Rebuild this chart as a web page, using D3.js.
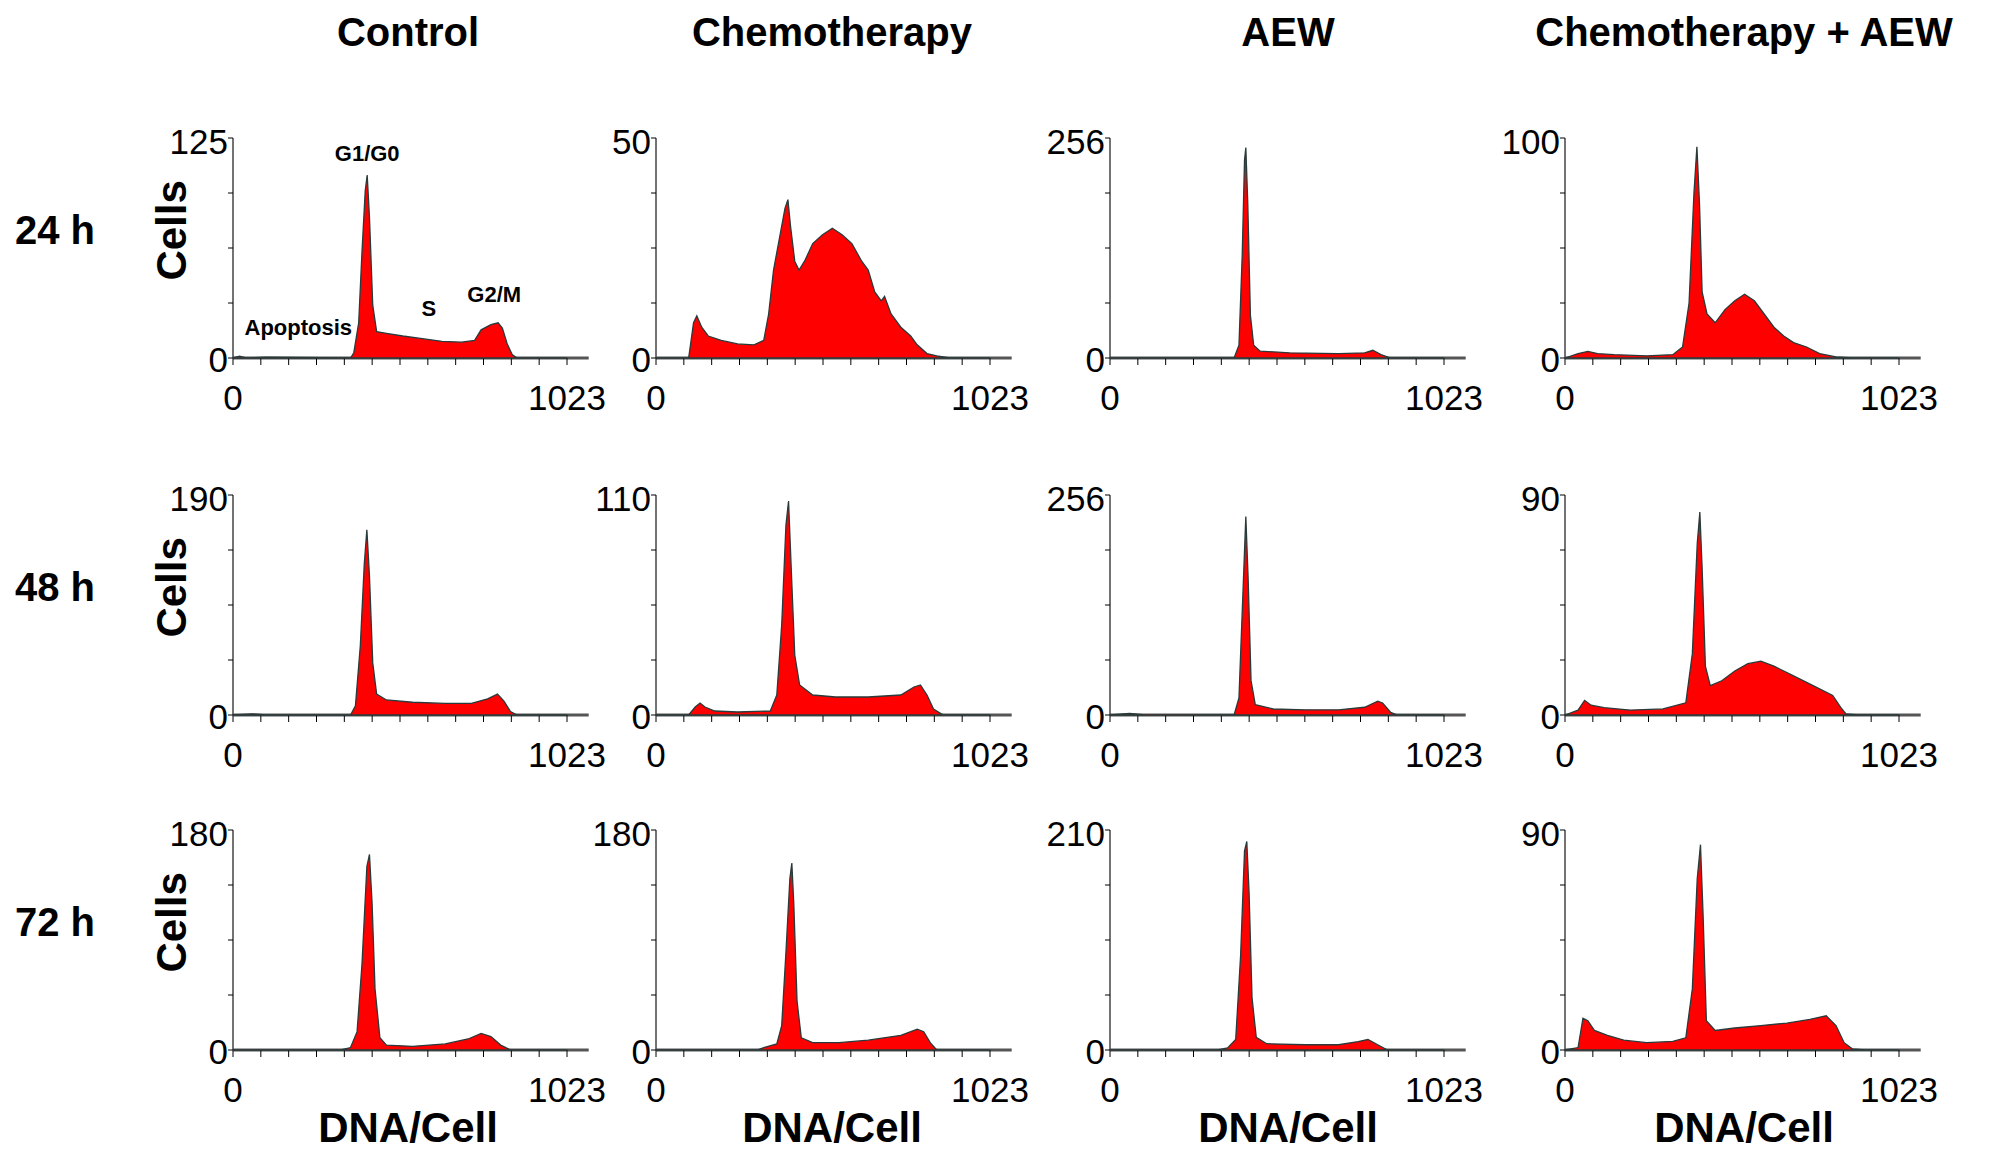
<!DOCTYPE html>
<html><head><meta charset="utf-8">
<script src="https://cdn.jsdelivr.net/npm/d3@7"></script>
<style>body{margin:0;background:#fff}text{font-family:"Liberation Sans Narrow","Liberation Sans",Arial,sans-serif}</style>
</head><body>
<script>
// Column and row labels
const conditions = ['Control', 'Chemotherapy', 'AEW', 'Chemotherapy + AEW'];
const times = ['24 h', '48 h', '72 h'];
// y-axis maxima per row, per column
const yMax = [[125, 50, 256, 100], [190, 110, 256, 90], [180, 180, 210, 90]];

// Histogram outlines: [channel, cells]
const ctl24 = [[0,0],[20,1],[40,0],[100,0.5],[360,0],[370,3],[385,20],[395,60],[405,95],[411,104],[418,80],[428,30],[440,15],[470,14],[520,12.5],[580,11],[640,9.5],[700,9],[740,10],[760,16],[790,19],[812,20],[825,17],[840,8],[855,2],[870,0],[1023,0]];
const chemo24 = [[0,0],[100,0],[115,8],[125,9.6],[140,7],[160,5],[200,4],[250,3.2],[300,3],[330,4],[345,10],[360,20],[380,28],[395,34],[404,36],[412,30],[425,22],[438,20],[455,22],[480,26],[510,28],[540,29.5],[570,28],[600,26],[630,22],[650,20],[670,15],[690,13],[700,14],[720,10],[750,7],[780,5],[800,3],[830,1],[860,0.5],[900,0],[1023,0]];
const aew24 = [[0,0],[380,0],[395,15],[405,120],[412,230],[416,245],[422,180],[430,50],[440,15],[460,8],[550,6],[700,5],[780,6],[805,9],[830,4],[860,0],[1023,0]];
const combo24 = [[0,0],[40,2],[70,3],[100,2],[150,1.5],[250,1],[330,1.5],[360,5],[380,25],[395,75],[404,96],[412,70],[420,30],[435,20],[460,16],[490,22],[520,26],[550,29],[580,26],[610,20],[640,14],[670,10],[700,7],[740,5],[780,2],[830,0.5],[880,0],[1023,0]];
const ctl48 = [[0,0],[60,1],[100,0],[360,0],[375,8],[390,60],[402,130],[410,160],[418,120],[428,45],[440,18],[470,13],[550,11],[650,10],[730,10],[780,14],[810,18],[830,12],[850,3],[870,0],[1023,0]];
const chemo48 = [[0,0],[100,0],[120,4],[135,6],[150,4],[180,2],[250,1.5],[350,2],[370,10],[385,45],[398,95],[406,107],[415,70],[425,30],[440,15],[480,10],[550,9],[650,9],[750,10],[790,14],[810,15],[830,10],[850,3],[880,0],[1023,0]];
const aew48 = [[0,0],[60,2],[100,0.5],[380,0],[395,20],[408,150],[416,231],[423,160],[432,40],[445,12],[500,7],[600,6],[700,6],[780,9],[820,16],[835,14],[860,3],[880,0],[1023,0]];
const combo48 = [[0,0],[40,2],[60,6],[80,4],[120,3],[200,2],[300,2.5],[370,5],[390,25],[405,70],[413,83],[420,60],[430,20],[445,12],[480,14],[520,18],[560,21],[600,22],[640,20],[700,16],[760,12],[820,8],[845,3],[860,0.5],[900,0],[1023,0]];
const ctl72 = [[0,0],[330,0],[360,2],[380,15],[395,70],[410,150],[418,160],[426,120],[435,50],[450,10],[470,4],[550,3],[650,5],[720,9],[760,13.5],[790,11],[820,4],[850,0],[1023,0]];
const chemo72 = [[0,0],[310,0],[330,2],[370,5],[385,20],[398,80],[410,140],[416,153],[422,120],[432,40],[445,10],[480,6],[560,6],[650,8],[750,12],[800,17],[820,15],[840,6],[860,0],[1023,0]];
const aew72 = [[0,0],[330,0],[360,2],[385,10],[400,90],[412,190],[419,199],[426,150],[435,50],[448,12],[480,6],[600,5],[700,5],[760,8],[790,10],[820,5],[850,0],[1023,0]];
const combo72 = [[0,0],[40,1],[55,13],[70,12],[90,8],[130,6],[180,4],[250,3],[330,3.5],[370,5],[390,25],[405,70],[415,84],[423,55],[433,12],[460,8],[520,9],[600,10],[680,11],[750,12.5],[800,14],[830,10],[855,3],[880,0.5],[920,0],[1023,0]];
const histograms = [[ctl24, chemo24, aew24, combo24], [ctl48, chemo48, aew48, combo48], [ctl72, chemo72, aew72, combo72]];

const colX = [233, 656, 1110, 1565];
const rowTop = [138, 495, 830];
const plotH = 220, plotW = 334;

const svg = d3.select('body').append('svg').attr('width', 2000).attr('height', 1154);

// column titles
const titleX = [408, 832, 1288, 1744];
conditions.forEach((c, i) => {
    svg.append('text').attr('x', titleX[i]).attr('y', 46).attr('text-anchor', 'middle')
        .attr('font-size', 40).attr('font-weight', 'bold').text(c);
});

times.forEach((t, r) => {
    const mid = rowTop[r] + plotH * 0.42;
    svg.append('text').attr('x', 55).attr('y', mid + 14).attr('text-anchor', 'middle')
        .attr('font-size', 40).attr('font-weight', 'bold').text(t);
    svg.append('text').attr('transform', `translate(186,${mid}) rotate(-90)`).attr('text-anchor', 'middle')
        .attr('font-size', 42).attr('font-weight', 'bold').text('Cells');

    conditions.forEach((c, k) => {
        const g = svg.append('g').attr('transform', `translate(${colX[k]},${rowTop[r]})`);
        const x = d3.scaleLinear().domain([0, 1023]).range([0, plotW]);
        const y = d3.scaleLinear().domain([0, yMax[r][k]]).range([plotH, 0]);

        // x axis baseline + ticks
        g.append('line').attr('x1', 0).attr('x2', plotW * 1.065).attr('y1', plotH).attr('y2', plotH)
            .attr('stroke', '#555').attr('stroke-width', 3);
        g.selectAll('.xt').data(d3.range(0, 13)).enter().append('line')
            .attr('x1', d => x(d * 1023 / 12)).attr('x2', d => x(d * 1023 / 12))
            .attr('y1', plotH).attr('y2', plotH + 7).attr('stroke', '#000').attr('stroke-width', 1);
        // y axis
        g.append('line').attr('x1', 0).attr('x2', 0).attr('y1', 0).attr('y2', plotH).attr('stroke', '#444').attr('stroke-width', 1.5);
        g.selectAll('.yt').data(d3.range(0, 5)).enter().append('line')
            .attr('x1', -5).attr('x2', 0).attr('y1', d => y(yMax[r][k] * d / 4)).attr('y2', d => y(yMax[r][k] * d / 4))
            .attr('stroke', '#000');

        // histogram
        const area = d3.area().x(d => x(d[0])).y0(plotH).y1(d => y(d[1]));
        g.append('path').datum(histograms[r][k]).attr('d', area)
            .attr('fill', '#ff0000').attr('stroke', '#2a3a3a').attr('stroke-width', 1.3);

        // labels
        g.append('text').attr('x', -5).attr('y', 16).attr('text-anchor', 'end').attr('font-size', 35).text(yMax[r][k]);
        g.append('text').attr('x', -5).attr('y', plotH + 14).attr('text-anchor', 'end').attr('font-size', 35).text(0);
        g.append('text').attr('x', x(0)).attr('y', plotH + 52).attr('text-anchor', 'middle').attr('font-size', 35).text(0);
        g.append('text').attr('x', x(1023)).attr('y', plotH + 52).attr('text-anchor', 'middle').attr('font-size', 35).text(1023);

        if (r === 2) {
            svg.append('text').attr('x', titleX[k]).attr('y', 1142).attr('text-anchor', 'middle')
                .attr('font-size', 42).attr('font-weight', 'bold').text('DNA/Cell');
        }
        if (r === 0 && k === 0) {
            const ann = [['G1/G0', 411, 112], ['S', 600, 24], ['G2/M', 800, 32], ['Apoptosis', 200, 13]];
            ann.forEach(a => g.append('text').attr('x', x(a[1])).attr('y', y(a[2]))
                .attr('text-anchor', 'middle').attr('font-size', 22).attr('font-weight', 'bold').text(a[0]));
        }
    });
});
</script>
</body></html>
